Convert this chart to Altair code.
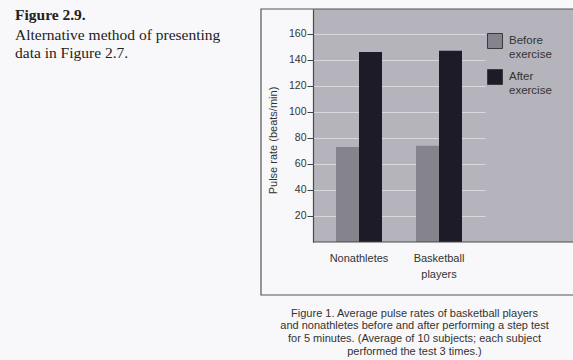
import altair as alt
import pandas as pd

groups = ["Nonathletes", "Basketball players"]
conditions = ["Before exercise", "After exercise"]
before = [73, 74]
after = [146, 147]
y_ticks = [20, 40, 60, 80, 100, 120, 140, 160]
side_title = "Figure 2.9."
side_lines = ["Alternative method of presenting", "data in Figure 2.7."]
caption_lines = [
    "Figure 1. Average pulse rates of basketball players",
    "and nonathletes before and after performing a step test",
    "for 5 minutes. (Average of 10 subjects; each subject",
    "performed the test 3 times.)",
]
bar_colors = ["#85848d", "#1d1b27"]

rows = []
for g, b, a in zip(groups, before, after):
    rows.append({"group": g, "condition": conditions[0], "rate": b})
    rows.append({"group": g, "condition": conditions[1], "rate": a})
df = pd.DataFrame(rows)

SANS = "Liberation Sans"
SERIF = "Liberation Serif"
TXT = "#333333"
LINE = "#4a4a4a"

bars = alt.Chart(df).mark_bar().encode(
    x=alt.X(
        "group:N",
        sort=groups,
        scale=alt.Scale(range=[0, 172], paddingInner=0.425, paddingOuter=0.2875),
        axis=alt.Axis(
            title=caption_lines,
            titleFont=SANS,
            titleFontSize=11,
            titleFontWeight="normal",
            titleColor=TXT,
            titleLineHeight=12.8,
            titleX=101,
            titleY=65,
            titleAlign="center",
            titleBaseline="top",
            labelAngle=0,
            labelExpr="split(datum.label, ' ')",
            labelFont=SANS,
            labelFontSize=11,
            labelColor=TXT,
            labelPadding=10,
            labelLineHeight=16,
            ticks=False,
            domain=False,
        ),
    ),
    xOffset=alt.XOffset("condition:N", sort=conditions,
                        scale=alt.Scale(paddingInner=0, paddingOuter=0)),
    y=alt.Y(
        "rate:Q",
        scale=alt.Scale(domain=[0, 179], nice=False),
        axis=alt.Axis(
            values=y_ticks,
            title="Pulse rate (beats/min)",
            titleFont=SANS,
            titleFontSize=11,
            titleFontWeight="normal",
            titleColor=TXT,
            titleAngle=-90,
            titleX=-40,
            titleY=131,
            titleAlign="center",
            titleBaseline="middle",
            labelFont=SANS,
            labelFontSize=10.5,
            labelColor=TXT,
            labelPadding=1,
            tickSize=6,
            tickColor="#444444",
            domain=True,
            domainColor=LINE,
            domainWidth=1.2,
            grid=True,
            gridColor="#dcdce2",
            gridWidth=1.2,
            gridOpacity=0.9,
        ),
    ),
    color=alt.Color(
        "condition:N",
        sort=conditions,
        scale=alt.Scale(domain=conditions, range=bar_colors),
        legend=alt.Legend(
            title=None,
            orient="none",
            legendX=174,
            legendY=24,
            symbolType="square",
            symbolSize=225,
            symbolStrokeColor="#3a3a3a",
            symbolStrokeWidth=1,
            symbolOpacity=1,
            labelExpr="split(datum.label, ' ')",
            labelFont=SANS,
            labelFontSize=11.5,
            labelColor=TXT,
            labelBaseline="middle",
            labelOffset=6,
            labelLimit=200,
            rowPadding=7,
            padding=0,
        ),
    ),
)

one = pd.DataFrame({"k": [0]})

outer_box = alt.Chart(one).mark_rect(fill=None, stroke="#555555", strokeWidth=1.2).encode(
    x=alt.value(-52), x2=alt.value(280), y=alt.value(0), y2=alt.value(286)
)

baseline_rule = alt.Chart(one).mark_rule(color=LINE, strokeWidth=1.2).encode(
    x=alt.value(0), x2=alt.value(280), y=alt.value(233)
)

side_head = alt.Chart(one).mark_text(
    text=side_title, font=SERIF, fontSize=15.5, fontWeight="bold",
    align="left", baseline="alphabetic", color="#222222",
).encode(x=alt.value(-298), y=alt.value(11))

side_body = alt.Chart(one).mark_text(
    text=side_lines, font=SERIF, fontSize=15.5, lineHeight=18.5,
    align="left", baseline="alphabetic", color="#222222",
).encode(x=alt.value(-298), y=alt.value(30.5))

chart = alt.layer(outer_box, bars, baseline_rule, side_head, side_body).properties(
    width=260,
    height=233,
    padding={"left": 313, "top": 9, "right": 0, "bottom": 118},
    autosize=alt.AutoSizeParams(type="none"),
    background="#f8f8fa",
).configure_view(
    fill="#b5b4bc",
    stroke=None,
)

chart.save("out.html", embed_options={"renderer": "svg", "actions": False})
